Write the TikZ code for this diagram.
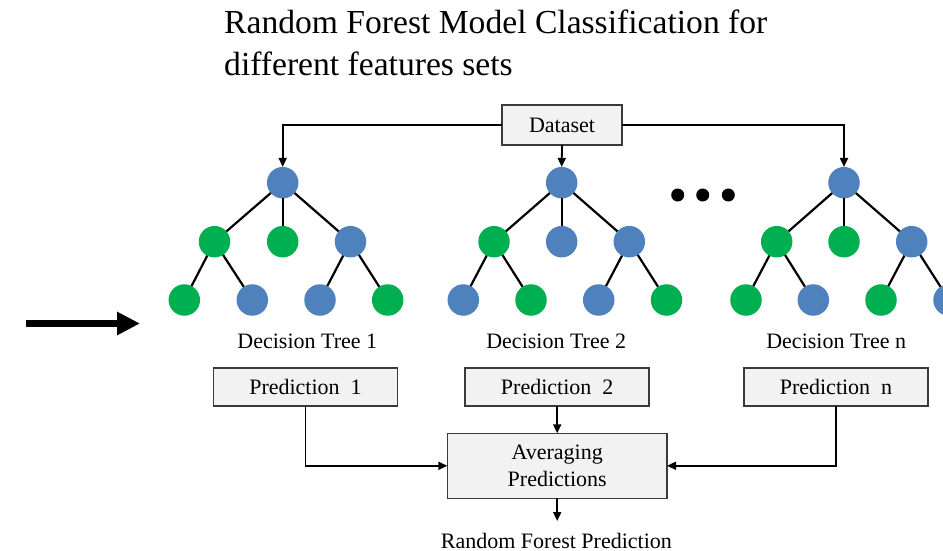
\documentclass[tikz,border=0pt]{standalone}
\usepackage{fontspec}
\setmainfont{Liberation Serif}
\usetikzlibrary{arrows.meta}
\definecolor{nblue}{HTML}{4F81BD}
\definecolor{ngreen}{HTML}{00B050}
\definecolor{boxfill}{HTML}{F2F2F2}
\definecolor{boxline}{HTML}{3A3A3A}
\tikzset{
  bn/.style={circle,minimum size=31.5pt,inner sep=0pt,outer sep=0pt,fill=nblue,draw=none},
  gn/.style={circle,minimum size=31.5pt,inner sep=0pt,outer sep=0pt,fill=ngreen,draw=none},
  tedge/.style={line width=2.2pt,black},
  pbox/.style={draw=boxline,line width=1.5pt,fill=boxfill,inner sep=0pt,outer sep=0pt,font=\fontsize{22}{27}\selectfont},
  conn/.style={line width=1.8pt,black},
  arr/.style={conn,-{Triangle[length=9pt,width=8pt]}},
  lbl/.style={inner sep=0pt,font=\fontsize{22}{27}\selectfont},
  dotn/.style={circle,fill=black,minimum size=13pt,inner sep=0pt}
}
\begin{document}
\begin{tikzpicture}[x=1pt,y=-1pt]
\useasboundingbox (0,0) rectangle (943,551);
% title
\node[anchor=base west,inner sep=0pt,font=\fontsize{33.6}{42}\selectfont] (title1) at (224,34) {Random Forest Model Classification for};
\node[anchor=base west,inner sep=0pt,font=\fontsize{33.6}{42}\selectfont] (title2) at (224,76) {different features sets};
% dataset
\node[pbox,minimum width=120pt,minimum height=40pt] (data) at (562,125) {Dataset};
% tree 1
\node[bn] (t1r) at (282.7,182.7) {};
\node[gn] (t1a) at (214.5,241.7) {};
\node[gn] (t1b) at (282.7,241.7) {};
\node[bn] (t1c) at (350.5,241.7) {};
\node[gn] (t1d) at (184.3,300) {};
\node[bn] (t1e) at (252.3,300) {};
\node[bn] (t1f) at (320,300) {};
\node[gn] (t1g) at (387.7,300) {};
% tree 2
\node[bn] (t2r) at (561.7,182.7) {};
\node[gn] (t2a) at (494,241.7) {};
\node[bn] (t2b) at (561.7,241.7) {};
\node[bn] (t2c) at (629.3,241.7) {};
\node[bn] (t2d) at (463.3,300) {};
\node[gn] (t2e) at (531,300) {};
\node[bn] (t2f) at (598.7,300) {};
\node[gn] (t2g) at (666.5,300) {};
% tree 3
\node[bn] (t3r) at (844,182.7) {};
\node[gn] (t3a) at (776.7,241.7) {};
\node[gn] (t3b) at (844,241.7) {};
\node[bn] (t3c) at (911.7,241.7) {};
\node[gn] (t3d) at (746,300) {};
\node[bn] (t3e) at (813.3,300) {};
\node[gn] (t3f) at (881,300) {};
\node[bn] (t3g) at (949,300) {};
% tree edges
\foreach \t in {1,2,3}{
  \draw[tedge] (t\t r) -- (t\t a);
  \draw[tedge] (t\t r) -- (t\t b);
  \draw[tedge] (t\t r) -- (t\t c);
  \draw[tedge] (t\t a) -- (t\t d);
  \draw[tedge] (t\t a) -- (t\t e);
  \draw[tedge] (t\t c) -- (t\t f);
  \draw[tedge] (t\t c) -- (t\t g);
}
% dots
\node[dotn] (d1) at (677.7,195) {};
\node[dotn] (d2) at (702.7,195) {};
\node[dotn] (d3) at (728.3,195) {};
% dataset arrows
\draw[arr] (data.west) -| (t1r.north);
\draw[arr] (data.east) -| (t3r.north);
\draw[arr] (data.south) -- (t2r.north);
% labels
\node[lbl,anchor=base] (lab1) at (307.3,348.3) {Decision Tree 1};
\node[lbl,anchor=base] (lab2) at (556.2,348.3) {Decision Tree 2};
\node[lbl,anchor=base] (lab3) at (836.2,348.3) {Decision Tree n};
% prediction boxes
\node[pbox,minimum width=184pt,minimum height=38pt] (p1) at (305.5,387.2) {Prediction\ \ 1};
\node[pbox,minimum width=184pt,minimum height=38pt] (p2) at (557.2,387.2) {Prediction\ \ 2};
\node[pbox,minimum width=184pt,minimum height=38pt] (pn) at (836,387.2) {Prediction\ \ n};
% averaging
\node[pbox,minimum width=219.7pt,minimum height=65pt,align=center] (avg) at (557.2,465.8) {Averaging\\Predictions};
\draw[arr] (p1.south) |- (avg.west);
\draw[arr] (pn.south) |- (avg.east);
\draw[arr] (p2.south) -- (avg.north);
% result
\node[lbl,anchor=base] (rfp) at (556.4,548) {Random Forest Prediction};
\coordinate (rfpin) at (557.2,521);
\draw[arr] (avg.south) -- (rfpin);
% left arrow
\coordinate (la) at (26,323.5);
\coordinate (lb) at (140,323.5);
\draw[line width=7pt,-{Triangle[length=23pt,width=22pt]}] (la) -- (lb);
\end{tikzpicture}
\end{document}
